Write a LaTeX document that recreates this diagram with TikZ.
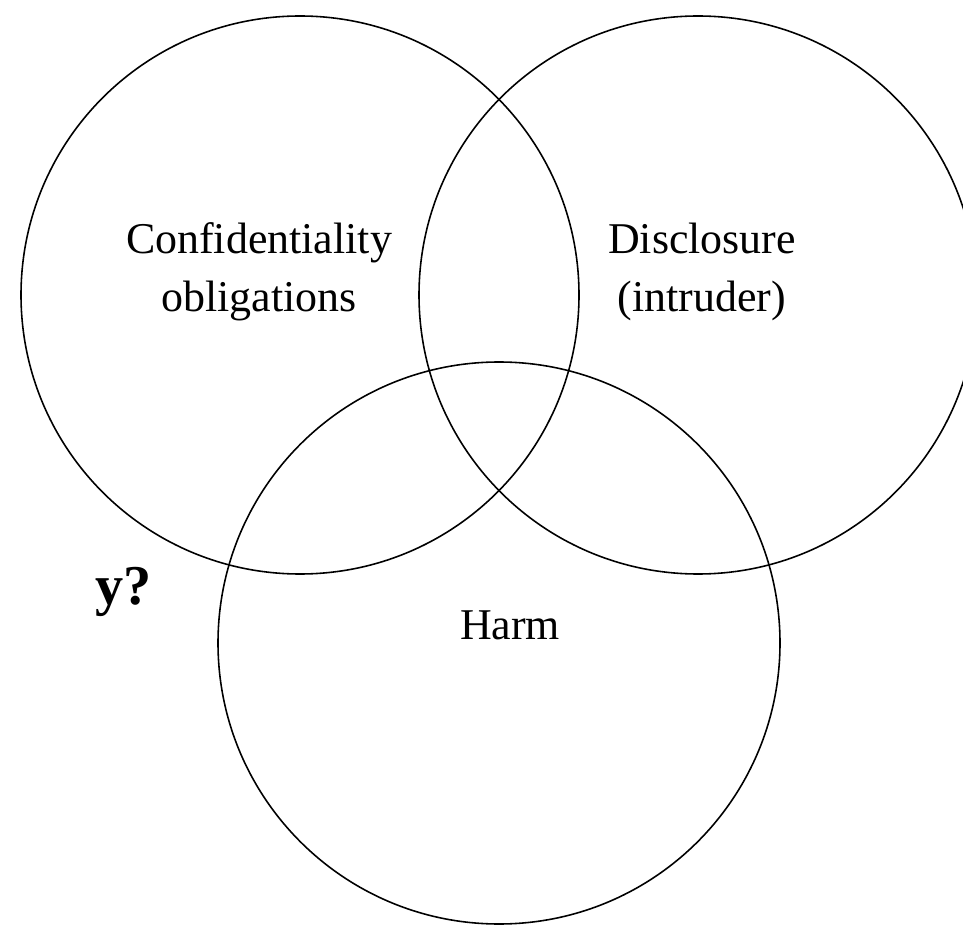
\documentclass[tikz,border=0pt]{standalone}
\usepackage{fontspec}
\setmainfont{Liberation Serif}

\begin{document}
\begin{tikzpicture}
  [x=0.02cm, y=-0.02cm,
   every node/.style={font=\fontsize{25}{33}\selectfont, align=center, inner sep=0pt},
   set/.style={draw, line width=0.9pt},
   question/.style={font=\fontsize{32}{40}\selectfont\bfseries, anchor=base west}]
  \useasboundingbox (0,0) rectangle (963,925);
  \clip (0,0) rectangle (963,925);
  % the three sets
  \draw[set] (300,295) circle (279);
  \draw[set] (698,295) circle (279);
  \draw[set] (499,643) circle (281);
  % labels
  \node (conf) at (259,272) {Confidentiality\\obligations};
  \node (disc) at (702,272) {Disclosure\\(intruder)};
  \node (harm) at (510,625) {Harm};
  \node[question] (why) at (95,604) {y?};
\end{tikzpicture}
\end{document}
